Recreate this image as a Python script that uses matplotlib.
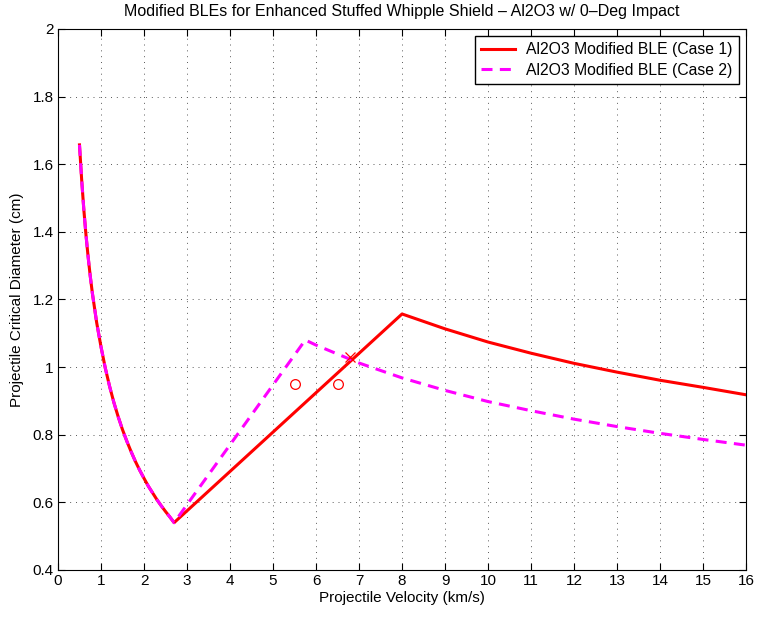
import matplotlib
matplotlib.use("Agg")
import matplotlib.pyplot as plt
import numpy as np

plt.rcParams['font.family'] = ['Liberation Sans', 'DejaVu Sans']

# ballistic limit curves, velocity in km/s, critical diameter in cm
v_low = [0.5, 0.55, 0.6, 0.65, 0.7, 0.75, 0.8, 0.9, 1.0, 1.1, 1.2, 1.3, 1.4, 1.5,
         1.6, 1.7, 1.8, 1.9, 2.0, 2.1, 2.2, 2.3, 2.4, 2.5, 2.6, 2.7]
d_low = [1.657, 1.555, 1.467, 1.392, 1.327, 1.269, 1.218, 1.131, 1.060, 0.997, 0.943, 0.895,
         0.853, 0.815, 0.781, 0.750, 0.721, 0.695, 0.671, 0.648, 0.628, 0.608, 0.590, 0.573,
         0.557, 0.540]

v_case1 = [8, 9, 10, 11, 12, 13, 14, 15, 16]
d_case1 = [1.157, 1.113, 1.074, 1.041, 1.011, 0.985, 0.961, 0.940, 0.918]

v_case2 = [5.75, 6, 7, 8, 9, 10, 11, 12, 13, 14, 15, 16]
d_case2 = [1.08, 1.065, 1.012, 0.968, 0.931, 0.898, 0.871, 0.846, 0.824, 0.804, 0.786, 0.769]

# test shots
v_pass = [5.5, 6.5]
d_pass = [0.95, 0.95]
v_fail = [6.8]
d_fail = [1.03]

x1 = np.array(v_low + v_case1)
y1 = np.array(d_low + d_case1)
x2 = np.array(v_low + v_case2)
y2 = np.array(d_low + d_case2)

fig = plt.figure(figsize=(7.57, 6.17), dpi=100)
ax = fig.add_axes([0.0766, 0.0762, 0.909, 0.877])

ax.plot(x1, y1, color='red', lw=2.2, label='Al2O3 Modified BLE (Case 1)')
ax.plot(x2, y2, color='magenta', lw=2.2, dashes=(3.6, 2.4), label='Al2O3 Modified BLE (Case 2)')
ax.plot(v_pass, d_pass, 'o', ms=7, mfc='none', mec='red', mew=0.9)
ax.plot(v_fail, d_fail, 'x', ms=7, color='red', mew=0.9)

ax.set_xlim(0, 16)
ax.set_ylim(0.4, 2)
ax.set_xticks(np.arange(0, 17, 1))
ax.set_yticks(np.arange(0.4, 2.01, 0.2))
ax.set_yticklabels(['0.4', '0.6', '0.8', '1', '1.2', '1.4', '1.6', '1.8', '2'])
ax.tick_params(direction='in', top=True, right=True, labelsize=11, length=5, width=0.8, pad=3)
ax.grid(True, color='0.35', lw=0.7, dashes=(1, 5))
for s in ax.spines.values():
    s.set_linewidth(0.8)

ax.set_title('Modified BLEs for Enhanced Stuffed Whipple Shield \u2013 Al2O3 w/ 0\u2013Deg Impact', fontsize=11.5, pad=9)
ax.set_xlabel('Projectile Velocity (km/s)', fontsize=11, labelpad=2)
ax.set_ylabel('Projectile Critical Diameter (cm)', fontsize=11, labelpad=6)

leg = ax.legend(loc='upper right', fontsize=11.3, fancybox=False, framealpha=1,
                edgecolor='black', borderpad=0.4, labelspacing=0.35, handlelength=2.2,
                handletextpad=0.7, borderaxespad=0.45)
leg.get_frame().set_linewidth(1.0)

fig.savefig('out.png', dpi=100)
